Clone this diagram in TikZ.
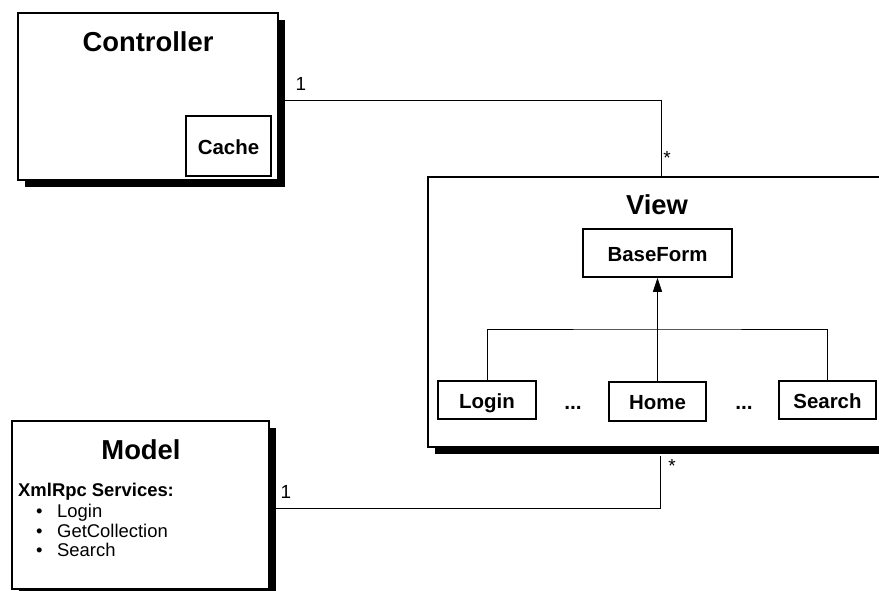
\documentclass[tikz,border=0pt]{standalone}
\usepackage{fontspec}
\setmainfont{Liberation Sans}
\usetikzlibrary{arrows.meta,shadows}
\begin{document}
\begin{tikzpicture}[x=1bp,y=-1bp,
  pkg/.style={draw,fill=white,line width=1.6bp,
    drop shadow={shadow xshift=7bp,shadow yshift=-7bp,opacity=1,fill=black}},
  cls/.style={draw,fill=white,line width=1.5bp,inner sep=0pt,
    text height=19bp,text depth=2.5bp,font=\fontsize{20.5}{23}\selectfont\bfseries},
  title/.style={font=\fontsize{27.5}{31}\selectfont\bfseries},
  conn/.style={line width=0.8bp},
  mult/.style={font=\fontsize{19}{22}\selectfont,inner sep=0pt},
  item/.style={font=\fontsize{18.5}{20}\selectfont,inner sep=0pt,anchor=west,
    text height=13.5bp,text depth=4bp}]
\useasboundingbox (0,0) rectangle (879,591);
\clip (0,0) rectangle (879,591);

% packages
\node[pkg,minimum width=260bp,minimum height=167bp] (ctrl) at (148,96.5) {};
\node[pkg,minimum width=462bp,minimum height=270bp] (view) at (659,312) {};
\node[pkg,minimum width=257bp,minimum height=168bp] (model) at (140.5,505) {};

% controller content
\node[title] (ctrlT) at (148,42) {Controller};
\node[cls,minimum width=85bp,minimum height=60bp] (cache) at (228.5,146) {Cache};

% view content
\node[title] (viewT) at (657,205) {View};
\node[cls,minimum width=149bp,minimum height=48bp] (base) at (657.5,253) {BaseForm};
\node[cls,minimum width=98bp,minimum height=38bp] (login) at (487,400) {Login};
\node[cls,minimum width=97bp,minimum height=39bp] (home) at (657.5,401.5) {Home};
\node[cls,minimum width=97bp,minimum height=38bp] (search) at (827.5,400) {Search};
\node[font=\fontsize{21}{23}\selectfont\bfseries,inner sep=0pt] (dotsA) at (573,408) {...};
\node[font=\fontsize{21}{23}\selectfont\bfseries,inner sep=0pt] (dotsB) at (744,408) {...};
\coordinate (bar) at (657.5,329);
\draw[conn,-{Triangle[length=14bp,width=9bp]}] (home.north) -- (base.south);
\draw[conn] (login.north) |- (bar) -| (search.north);

% model content
\node[title] (modelT) at (141,450) {Model};
\node[item,font=\fontsize{18.5}{20}\selectfont\bfseries] (svc) at (18,492) {XmlRpc Services:};
\node[item] (b1) at (36,513) {\textbullet};
\node[item] (i1) at (57,513) {Login};
\node[item] (b2) at (36,533) {\textbullet};
\node[item] (i2) at (57,533) {GetCollection};
\node[item] (b3) at (36,552) {\textbullet};
\node[item] (i3) at (57,552) {Search};

% associations
\draw[conn] (ctrl.east |- 0,100) -| (view.north -| 661,0);
\draw[conn] (model.east |- 0,508) -| ([yshift=-8bp]view.south -| 660,0);
\node[mult] (m1) at (301,84) {1};
\node[mult] (m2) at (667,158) {*};
\node[mult] (m3) at (286,492) {1};
\node[mult] (m4) at (672,466) {*};
\end{tikzpicture}
\end{document}
